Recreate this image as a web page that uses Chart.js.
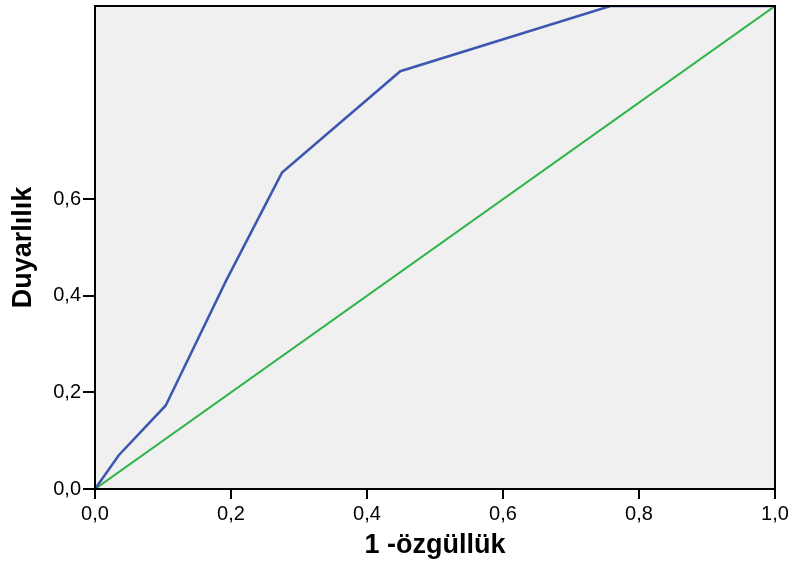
<!DOCTYPE html>
<html>
<head>
<meta charset="utf-8">
<script src="https://cdn.jsdelivr.net/npm/chart.js@4"></script>
<style>
  body { margin: 0; background: #fff; }
  #rocChart { display: block; }
</style>
</head>
<body>
<canvas id="rocChart" width="797" height="567"></canvas>
<script>
// ROC curve points (1 - specificity, sensitivity)
const fpr = [0, 0.035, 0.104, 0.193, 0.275, 0.449, 0.758, 1.0];
const tpr = [0, 0.070, 0.173, 0.432, 0.655, 0.865, 1.0, 1.0];
// reference line
const refX = [0, 1];
const refY = [0, 1];

const xTicks = [0, 0.2, 0.4, 0.6, 0.8, 1.0];
const yTicks = [0, 0.2, 0.4, 0.6];

const xTitle = '1 -özgüllük';
const yTitle = 'Duyarlılık';

const tickFont = { family: "'Liberation Sans', Arial, sans-serif", size: 20 };
const titleFont = { family: "'Liberation Sans', Arial, sans-serif", size: 27, weight: 'bold' };

function fmt(v) {
  return v.toFixed(1).replace('.', ',');
}

// plot background and frame
const framePlugin = {
  id: 'frame',
  beforeDraw(chart) {
    const { ctx, chartArea: a } = chart;
    ctx.save();
    ctx.fillStyle = '#f0f0f0';
    ctx.fillRect(a.left, a.top, a.right - a.left, a.bottom - a.top);
    ctx.restore();
  },
  afterDatasetsDraw(chart) {
    const { ctx, chartArea: a } = chart;
    ctx.save();
    ctx.strokeStyle = '#000';
    ctx.lineWidth = 2;
    ctx.strokeRect(a.left, a.top, a.right - a.left, a.bottom - a.top);
    ctx.restore();
  },
};

const data = {
  datasets: [
    {
      label: 'ROC',
      data: fpr.map((x, i) => ({ x, y: tpr[i] })),
      borderColor: '#3d56b0',
      borderWidth: 2.5,
      pointRadius: 0,
      showLine: true,
      tension: 0,
    },
    {
      label: 'Referans',
      data: refX.map((x, i) => ({ x, y: refY[i] })),
      borderColor: '#2fb449',
      borderWidth: 2,
      pointRadius: 0,
      showLine: true,
      tension: 0,
    },
  ],
};

const config = {
  type: 'scatter',
  data: data,
  options: {
    responsive: false,
    animation: false,
    layout: { padding: { top: 6, right: 22, left: 0, bottom: 0 } },
    plugins: {
      legend: { display: false },
      tooltip: { enabled: false },
    },
    scales: {
      x: {
        type: 'linear',
        min: 0,
        max: 1,
        afterBuildTicks: (axis) => {
          axis.ticks = xTicks.map((v) => ({ value: v }));
        },
        afterFit: (axis) => {
          axis.height = 78;
        },
        border: { display: false },
        grid: {
          drawOnChartArea: false,
          drawTicks: true,
          tickLength: 10,
          color: '#000',
          lineWidth: 2,
        },
        ticks: {
          color: '#000',
          font: tickFont,
          padding: 3,
          maxRotation: 0,
          callback: (v) => fmt(v),
        },
        title: {
          display: true,
          text: xTitle,
          color: '#000',
          font: titleFont,
          padding: { top: 0, bottom: 5 },
        },
      },
      y: {
        type: 'linear',
        min: 0,
        max: 1,
        afterBuildTicks: (axis) => {
          axis.ticks = yTicks.map((v) => ({ value: v }));
        },
        afterFit: (axis) => {
          axis.width = 95;
          axis.paddingTop = 0;
          axis.paddingBottom = 0;
        },
        border: { display: false },
        grid: {
          drawOnChartArea: false,
          drawTicks: true,
          tickLength: 12,
          color: '#000',
          lineWidth: 2,
        },
        ticks: {
          color: '#000',
          font: tickFont,
          padding: 2,
          callback: (v) => fmt(v),
        },
        title: {
          display: true,
          text: yTitle,
          color: '#000',
          font: titleFont,
          padding: { top: 7, bottom: 6 },
        },
      },
    },
  },
  plugins: [framePlugin],
};

const rocChart = new Chart(document.getElementById('rocChart'), config);
</script>
</body>
</html>
